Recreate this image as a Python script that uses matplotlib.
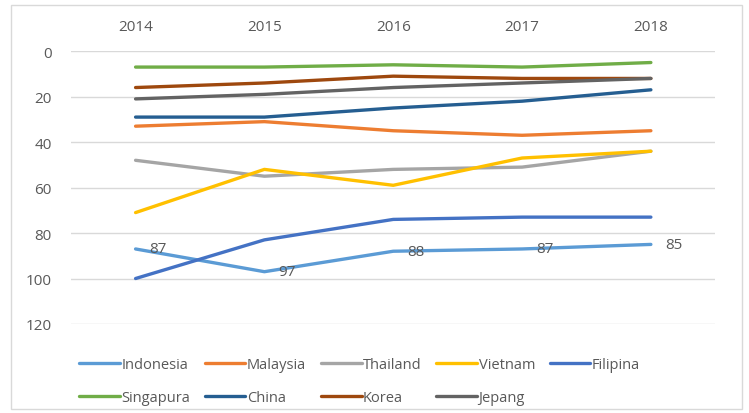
import matplotlib.pyplot as plt
from matplotlib.patches import Rectangle

years = ["2014", "2015", "2016", "2017", "2018"]

indonesia = [87, 97, 88, 87, 85]
malaysia = [33, 31, 35, 37, 35]
thailand = [48, 55, 52, 51, 44]
vietnam = [71, 52, 59, 47, 44]
filipina = [100, 83, 74, 73, 73]
singapura = [7, 7, 6, 7, 5]
china = [29, 29, 25, 22, 17]
korea = [16, 14, 11, 12, 12]
jepang = [21, 19, 16, 14, 12]

series = [
    ("Indonesia", indonesia, "#5B9BD5"),
    ("Malaysia", malaysia, "#ED7D31"),
    ("Thailand", thailand, "#A5A5A5"),
    ("Vietnam", vietnam, "#FFC000"),
    ("Filipina", filipina, "#4472C4"),
    ("Singapura", singapura, "#70AD47"),
    ("China", china, "#255E91"),
    ("Korea", korea, "#9E480E"),
    ("Jepang", jepang, "#636363"),
]

plt.rcParams["font.family"] = ["Open Sans", "DejaVu Sans"]

fig = plt.figure(figsize=(7.49, 4.14), dpi=100)
fig.patches.append(Rectangle((0.015, 0.01), 0.975, 0.975, transform=fig.transFigure,
                             fill=False, edgecolor="#D9D9D9", linewidth=1))
ax = fig.add_axes([0.095, 0.215, 0.86, 0.659])

x = list(range(len(years)))
lines = []
for name, vals, color in series:
    ln, = ax.plot(x, vals, color=color, linewidth=2.4, label=name, solid_capstyle="round")
    lines.append(ln)

# data labels for Indonesia
for xi, v in zip(x, indonesia):
    ax.annotate(str(v), (xi, v), xytext=(10, 0), textcoords="offset points",
                va="center", ha="left", fontsize=11, color="#595959")

ax.set_ylim(120, 0)
ax.set_xlim(-0.5, 4.5)
ax.set_yticks([0, 20, 40, 60, 80, 100, 120])
ax.set_xticks(x)
ax.set_xticklabels(years)
ax.xaxis.tick_top()
ax.tick_params(axis="both", length=0, labelsize=11, labelcolor="#595959")
ax.tick_params(axis="x", pad=12)
ax.tick_params(axis="y", pad=14)
ax.grid(axis="y", color="#D9D9D9", linewidth=1)
ax.set_axisbelow(True)
for s in ax.spines.values():
    s.set_visible(False)

# legend filled row by row (matplotlib fills columns first)
order = [0, 5, 1, 6, 2, 7, 3, 8, 4]
fig.legend([lines[i] for i in order], [series[i][0] for i in order],
           loc="lower center", bbox_to_anchor=(0.48, 0.0), ncol=5, frameon=False,
           fontsize=10.5, handlelength=2.8, columnspacing=1.0, handletextpad=0.1,
           labelspacing=1.25, borderaxespad=0.15, labelcolor="#595959")

fig.savefig("out.png", dpi=100)
